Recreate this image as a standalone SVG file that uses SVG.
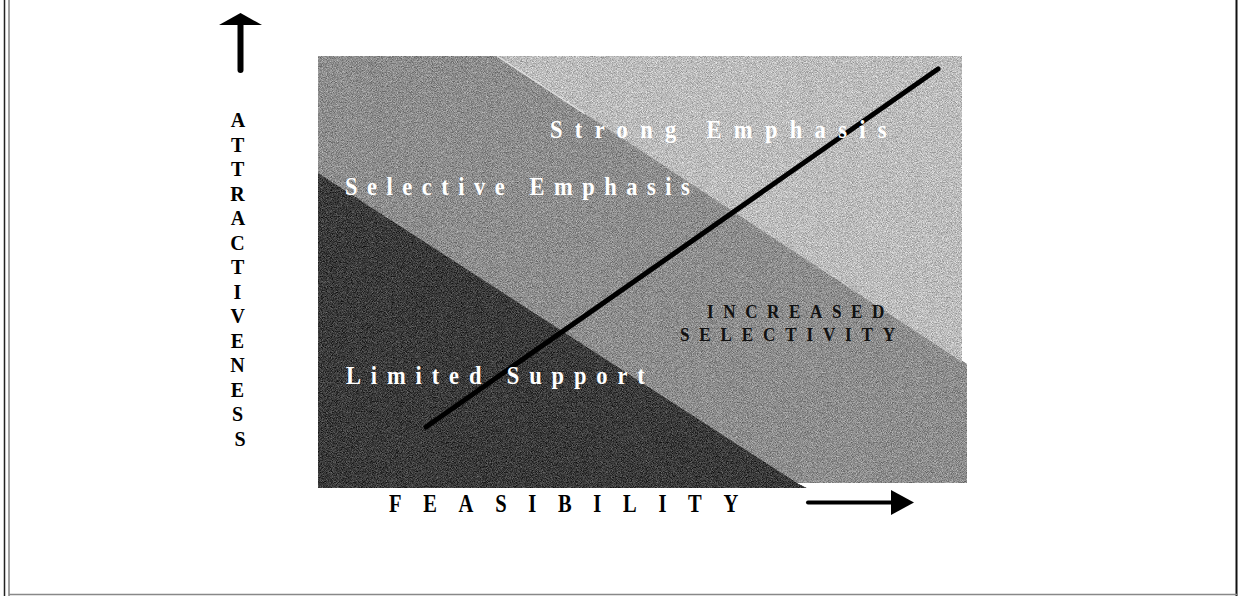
<svg xmlns="http://www.w3.org/2000/svg" width="1238" height="596" viewBox="0 0 1238 596">
  <style>
    .serif { font-family: "Liberation Serif", "Times New Roman", serif; font-weight: bold; }
    .zone-label { fill: #ffffff; font-size: 25px; }
    .dark-label { fill: #111111; font-size: 19px; }
    .axis-label { fill: #000000; font-size: 25px; }
    .axis-letters { fill: #000000; font-size: 20px; }
    .frame-line { fill: none; }
  </style>
  <defs>
    <!-- halftone-like grain over the shaded zones -->
    <filter id="grain" filterUnits="userSpaceOnUse" x="310" y="50" width="670" height="445" color-interpolation-filters="sRGB">
      <feTurbulence type="fractalNoise" baseFrequency="1.2" numOctaves="1" seed="7" result="noise"/>
      <feColorMatrix in="noise" type="matrix" values="1 0 0 0 0  1 0 0 0 0  1 0 0 0 0  0 0 0 0 1" result="grayNoise"/>
      <feComposite in="SourceGraphic" in2="grayNoise" operator="arithmetic" k1="0" k2="1" k3="0.7" k4="-0.35" result="mixed"/>
      <feComposite in="mixed" in2="SourceGraphic" operator="in"/>
    </filter>
  </defs>

  <!-- page frame -->
  <g id="frame" class="frame-line">
    <line x1="4.5" y1="0" x2="4.5" y2="596" stroke="#222" stroke-width="1.5"/>
    <line x1="9" y1="0" x2="9" y2="596" stroke="#444" stroke-width="1"/>
    <line x1="1236.5" y1="0" x2="1236.5" y2="596" stroke="#111" stroke-width="2"/>
    <line x1="9" y1="594.5" x2="1237" y2="594.5" stroke="#888" stroke-width="1.5"/>
  </g>

  <!-- shaded zones -->
  <g id="zones" filter="url(#grain)">
    <polygon id="zone-medium" points="318,56 497,56 967,364 967,483 318,483" fill="#8d8d8d"/>
    <polygon id="zone-light" points="497,56 962,56 962,362" fill="#bcbcbc"/>
    <polygon id="zone-dark" points="318,173 797,483 807,488 318,488" fill="#3a3a3a"/>
  </g>
  <!-- highlight along the upper edge of the light zone -->
  <line x1="497" y1="56" x2="585" y2="114" stroke="#f2f2f2" stroke-width="1.2" opacity="0.8"/>

  <!-- connectors: trend line and axis arrows -->
  <g id="connectors">
    <line id="trend" x1="938" y1="69" x2="426" y2="427" stroke="#000" stroke-width="5" stroke-linecap="round"/>
    <g id="arrow-up">
      <line x1="240.5" y1="22" x2="240.5" y2="70" stroke="#000" stroke-width="6" stroke-linecap="round"/>
      <polygon points="240.5,13 262,25 219,25" fill="#000"/>
    </g>
    <g id="arrow-right">
      <line x1="808" y1="502.5" x2="893" y2="502.5" stroke="#000" stroke-width="4" stroke-linecap="round"/>
      <polygon points="891,490 914,502.5 891,515" fill="#000"/>
    </g>
  </g>

  <!-- zone labels (slightly condensed serif) -->
  <g id="label-strong"><text class="serif zone-label" transform="translate(550,138) scale(0.9,1)" textLength="374" lengthAdjust="spacing">Strong Emphasis</text></g>
  <g id="label-selective"><text class="serif zone-label" transform="translate(345,195) scale(0.9,1)" textLength="383" lengthAdjust="spacing">Selective Emphasis</text></g>
  <g id="label-limited"><text class="serif zone-label" transform="translate(346,384) scale(0.9,1)" textLength="332" lengthAdjust="spacing">Limited Support</text></g>
  <g id="label-selectivity">
    <text class="serif dark-label" transform="translate(707,318) scale(0.9,1)" textLength="197" lengthAdjust="spacing">INCREASED</text>
    <text class="serif dark-label" transform="translate(680,341) scale(0.9,1)" textLength="239" lengthAdjust="spacing">SELECTIVITY</text>
  </g>

  <!-- axis titles -->
  <g id="axis-x"><text class="serif axis-label" transform="translate(389,512) scale(0.82,1)" textLength="426" lengthAdjust="spacing">FEASIBILITY</text></g>
  <g id="axis-y">
    <text class="serif axis-letters" text-anchor="middle">
      <tspan x="240" y="127">A</tspan>
      <tspan x="240" y="151.5">T</tspan>
      <tspan x="240" y="176">T</tspan>
      <tspan x="240" y="200.5">R</tspan>
      <tspan x="240" y="225">A</tspan>
      <tspan x="240" y="249.5">C</tspan>
      <tspan x="240" y="274">T</tspan>
      <tspan x="240" y="298.5">I</tspan>
      <tspan x="240" y="323">V</tspan>
      <tspan x="240" y="347.5">E</tspan>
      <tspan x="240" y="372">N</tspan>
      <tspan x="240" y="396.5">E</tspan>
      <tspan x="240" y="421">S</tspan>
      <tspan x="240" y="445.5">S</tspan>
    </text>
  </g>
</svg>
